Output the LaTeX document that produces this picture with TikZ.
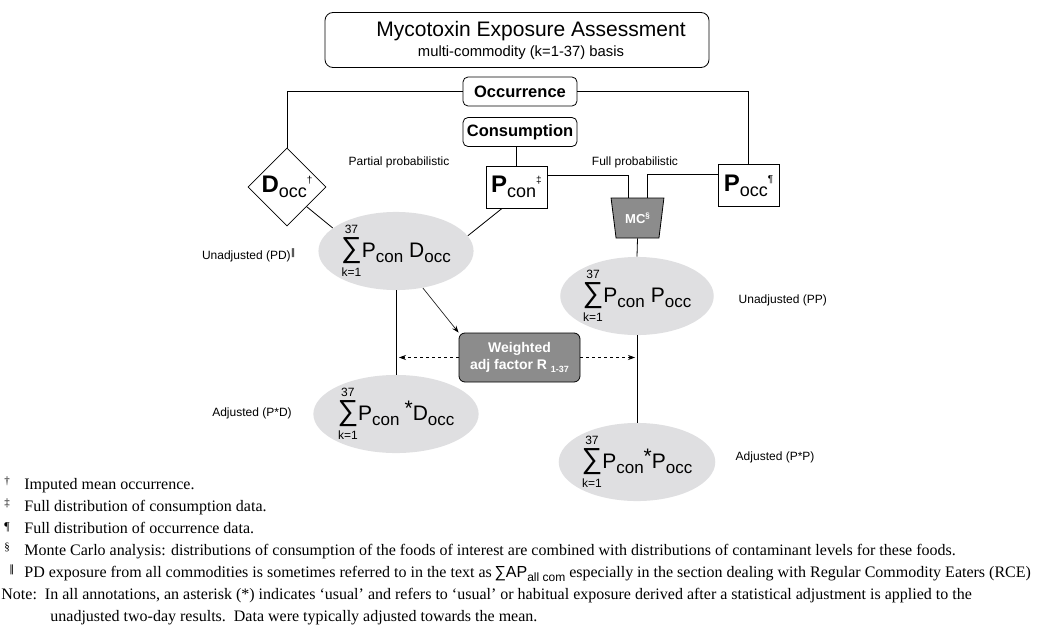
\documentclass[tikz,border=0pt]{standalone}
\usepackage{amsmath}
\usepackage{fontspec}
\setmainfont{Liberation Serif}
\setsansfont{Liberation Sans}
\newfontfamily\symfont{DejaVu Sans}
\usetikzlibrary{shapes.geometric,arrows.meta,calc}
\definecolor{ovalgray}{HTML}{DFDFE1}
\definecolor{mcgray}{HTML}{8C8C8C}
\newcommand{\fsz}[1]{\fontsize{#1}{#1}\selectfont}
\newcommand{\lowsub}[1]{\raisebox{-5pt}{\fsz{17}#1}}
\newcommand{\boxsub}[1]{\raisebox{-5pt}{\fsz{18}#1}}
\newcommand{\ksum}{\ensuremath{\mathop{\hbox{\fsz{29}∑}}\limits^{\hbox{\fsz{12}37}}_{\hbox{\fsz{12}k=1}}}}

\begin{document}
\begin{tikzpicture}[x=1pt,y=-1pt,
    >={Stealth[length=7pt,width=5pt]},
    line width=0.8pt,
    every node/.style={font=\sffamily},
    titlebox/.style={draw,rounded corners=8pt,minimum width=384,minimum height=55,inner sep=0pt},
    hdrbox/.style={draw,rounded corners=5pt,minimum width=114,minimum height=29,inner sep=0pt,font=\sffamily\bfseries\fsz{16.5}},
    databox/.style={draw,minimum width=61,minimum height=42,inner sep=0pt},
    oval/.style={ellipse,fill=ovalgray,minimum width=150,minimum height=77,inner sep=0pt,font=\sffamily\fsz{21}},
    greybox/.style={draw,fill=mcgray,text=white,inner sep=0pt,font=\sffamily\bfseries\fsz{14}},
    lbl/.style={font=\sffamily\fsz{12}},
    fnote/.style={anchor=base west,inner sep=0pt,font=\rmfamily\fsz{16}}
  ]
\useasboundingbox (0,0) rectangle (1037,642);
%
\node[titlebox] (title) at (517,40) {};
\node[font=\sffamily\fsz{21}] (titletxt) at (531,31) {Mycotoxin Exposure Assessment};
\node[font=\sffamily\fsz{14.8}] (subtxt) at (521,53) {multi-commodity (k=1-37) basis};
\node[hdrbox] (occ) at (520,91.5) {Occurrence};
\node[hdrbox] (cons) at (520,132) {Consumption};
%
\node[draw,diamond,minimum width=78,minimum height=78,inner sep=0pt] (docc) at (287,187)
  {\makebox[0pt]{{\fsz{24}\bfseries D}\boxsub{occ}\raisebox{9pt}{\fsz{10}†}}};
\node[databox] (pcon) at (516.5,187) {{\fsz{24}\bfseries P}\boxsub{con}\raisebox{9pt}{\fsz{10}‡}};
\node[databox] (pocc) at (748.5,185.5) {{\fsz{24}\bfseries P}\boxsub{occ}\raisebox{9pt}{\fsz{10}¶}};
\node[greybox,trapezium,shape border rotate=180,trapezium angle=75,trapezium stretches=true,
  minimum width=53,minimum height=40,font=\sffamily\bfseries\fsz{13}] (mc) at (637.5,218)
  {MC\raisebox{5pt}{\fsz{8}§}};
%
\node[oval] (pd) at (396,251) {\ksum P\lowsub{con}\hspace{6pt}D\lowsub{occ}};
\node[oval] (pp) at (637,296) {\ksum P\lowsub{con}\hspace{6pt}P\lowsub{occ}};
\node[greybox,rounded corners=6pt,minimum width=121,minimum height=49,align=center] (wt) at (519.5,357.5)
  {Weighted\\[3pt]adj factor R \raisebox{-3pt}{\fsz{9}1-37}};
\node[oval] (pds) at (396,414) {\ksum P\lowsub{con}\hspace{5pt}\raisebox{5pt}{*}D\lowsub{occ}};
\node[oval] (pps) at (637,462) {\ksum P\lowsub{con}\raisebox{5pt}{*}P\lowsub{occ}};
%
\node[lbl] (partial) at (399,162) {Partial probabilistic};
\node[lbl] (full) at (635,162) {Full probabilistic};
\node[lbl,anchor=east] (unpd) at (299,255) {Unadjusted (PD)\raisebox{4pt}{\symfont\fsz{9}‖}};
\node[lbl] (adpd) at (252,413) {Adjusted (P*D)};
\node[lbl,anchor=west] (unpp) at (735,300) {Unadjusted (PP)};
\node[lbl,anchor=west] (adpp) at (732,457) {Adjusted (P*P)};
%
\draw (occ.west) -| (docc.north);
\draw (occ.east) -| (pocc.north);
\draw (cons.south -| pcon.north) -- (pcon.north);
\draw (pcon.20) -| ($(mc.north)+(-9.5,0)$);
\draw (pocc.160) -| ($(mc.north)+(9.5,0)$);
\draw (mc.south) -- (pp.north);
\draw (docc.south east) -- (pd.160);
\draw (pcon.236) -- (pd.12);
\draw (pd.south) -- (pds.north);
\draw[->,line width=0.6pt] (pd.-54) -- (wt.north west);
\draw[->,dashed,line width=0.6pt] (wt.west) -- ($(wt.west -| pd.south)+(3,0)$);
\draw[->,dashed,line width=0.6pt] (wt.east) -- ($(wt.east -| pp.south)+(-2,0)$);
\draw (pp.south) -- (pps.north);
%
\node[fnote] (fn1) at (4,489) {\makebox[20pt][l]{\raisebox{5pt}{\fsz{11}†}}Imputed mean occurrence.};
\node[fnote] (fn2) at (4,511) {\makebox[20pt][l]{\raisebox{5pt}{\fsz{11}‡}}Full distribution of consumption data.};
\node[fnote] (fn3) at (4,533) {\makebox[20pt][l]{\raisebox{3pt}{\fsz{12}¶}}Full distribution of occurrence data.};
\node[fnote] (fn4) at (4,555) {\makebox[20pt][l]{\raisebox{5pt}{\fsz{11}§}}Monte Carlo analysis: distributions of consumption of the foods of interest are combined with distributions of contaminant levels for these foods.};
\node[fnote] (fn5) at (4,577) {\makebox[20pt][l]{\hspace{5pt}\raisebox{5pt}{\symfont\fsz{10}‖}}PD exposure from all commodities is sometimes referred to in the text as\,{\sffamily{\fsz{16}∑}AP\raisebox{-4pt}{\fsz{12}all com}} especially in the section dealing with Regular Commodity Eaters (RCE)};
\node[fnote] (fn6) at (1,599) {Note:\hspace{8pt}In all annotations, an asterisk (*) indicates ‘usual’ and refers to ‘usual’ or habitual exposure derived after a statistical adjustment is applied to the};
\node[fnote] (fn7) at (50,621) {unadjusted two-day results.\ \ Data were typically adjusted towards the mean.};
\end{tikzpicture}
\end{document}
